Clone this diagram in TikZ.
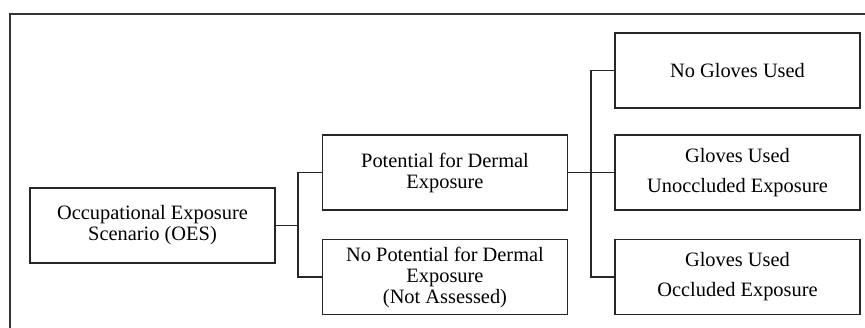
\documentclass[tikz,border=0pt]{standalone}
\usepackage{fontspec}
\setmainfont{Liberation Serif}
\usepackage{tikz}
\usetikzlibrary{positioning}

\tikzset{
  box/.style={draw=black!85, line width=1.2pt, minimum width=245pt, minimum height=75pt,
    inner sep=0pt, outer sep=0pt, align=center, font=\fontsize{20.4}{21}\selectfont},
  widebox/.style={box, font=\fontsize{20.4}{30}\selectfont},
  link/.style={draw=black!85, line width=1.2pt}
}

\begin{document}
\begin{tikzpicture}[x=1pt,y=-1pt]
   \useasboundingbox (0,0) rectangle (865,328);
   \draw[line width=1.2pt, black!80] (10,14) rectangle (880,345);

   \draw (152.5,225.5) node[box] (oes) {Occupational Exposure\\Scenario (OES)};
     \draw (445,172.5) node[box] (dermal) {Potential for Dermal\\Exposure};
     \draw (445,277) node[box] (nodermal) {No Potential for Dermal\\Exposure\\(Not Assessed)};
         \draw (737.5,70.5) node[box] (nogloves) {No Gloves Used};
         \draw (737.5,172.5) node[widebox] (unoccluded) {Gloves Used\\Unoccluded Exposure};
         \draw (737.5,277) node[widebox] (occluded) {Gloves Used\\Occluded Exposure};

   \coordinate (split) at (298,225.5);
   \coordinate (gloves) at (591,172.5);

       \path[link] (oes) -- (split);
       \path[link] (split) |- (dermal.west);
       \path[link] (split) |- (nodermal.west);
       \path[link] (dermal) -- (unoccluded);
       \path[link] (gloves) |- (nogloves.west);
       \path[link] (gloves) |- (occluded.west);
\end{tikzpicture}
\end{document}
